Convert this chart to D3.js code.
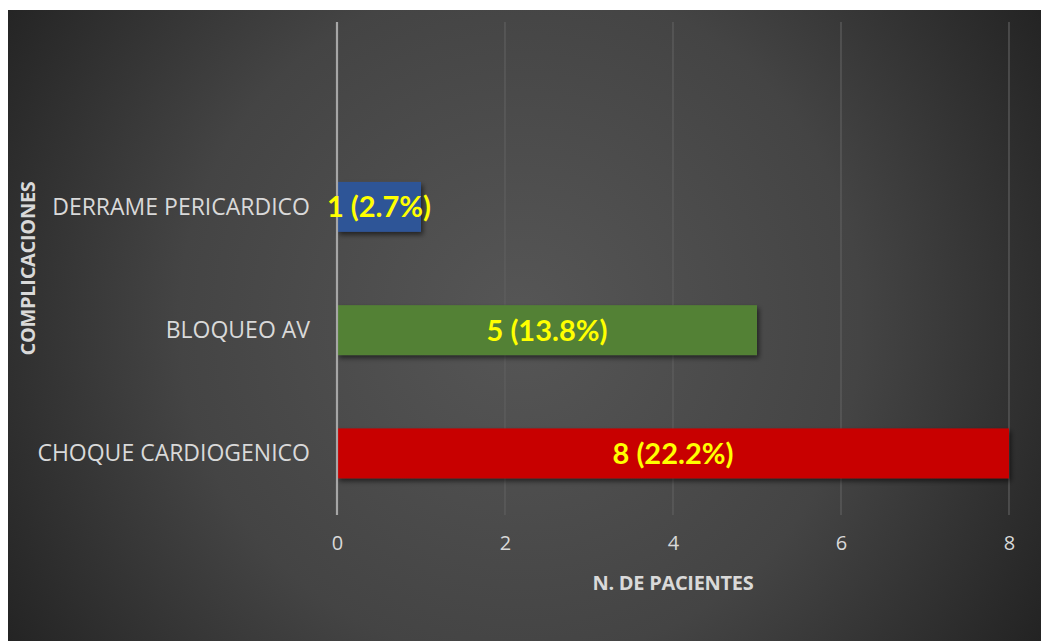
<!DOCTYPE html>
<html>
<head>
<meta charset="utf-8">
<script src="https://cdn.jsdelivr.net/npm/d3@7"></script>
<style>
  html, body { margin: 0; padding: 0; background: #ffffff; }
  svg { display: block; }
</style>
</head>
<body>
<svg id="chart" width="1041" height="641"></svg>
<script>
// Complications, number of patients and share of the cohort
const categories = ["DERRAME PERICARDICO", "BLOQUEO AV", "CHOQUE CARDIOGENICO"];
const patients = [1, 5, 8];
const percents = [2.7, 13.8, 22.2];
const barColors = ["#2F5597", "#538135", "#C80000"];
const xTicks = [0, 2, 4, 6, 8];
const xTitle = "N. DE PACIENTES";
const yTitle = "COMPLICACIONES";

const W = 1041, H = 641;
const frame = { x: 8, y: 10 };
const plot = { left: 337, right: 1009, top: 22, bottom: 515 };

const svg = d3.select("#chart");
const defs = svg.append("defs");

const bg = defs.append("radialGradient")
  .attr("id", "bg").attr("gradientUnits", "userSpaceOnUse")
  .attr("cx", 520).attr("cy", 320).attr("r", 620);
bg.append("stop").attr("offset", "0%").attr("stop-color", "#565656");
bg.append("stop").attr("offset", "55%").attr("stop-color", "#444444");
bg.append("stop").attr("offset", "100%").attr("stop-color", "#222222");

const shadow = defs.append("filter").attr("id", "shadow")
  .attr("x", "-5%").attr("y", "-30%").attr("width", "115%").attr("height", "170%");
shadow.append("feDropShadow").attr("dx", 2).attr("dy", 3).attr("stdDeviation", 2.5)
  .attr("flood-color", "#000").attr("flood-opacity", 0.55);

svg.append("rect").attr("x", frame.x).attr("y", frame.y)
  .attr("width", W - frame.x).attr("height", H - frame.y).attr("fill", "url(#bg)");

const data = categories.map((c, i) => ({ name: c, value: patients[i], pct: percents[i], color: barColors[i] }));

const x = d3.scaleLinear().domain([0, 8]).range([plot.left, plot.right]);
// one empty slot above the first category
const y = d3.scaleBand().domain(["", ...categories]).range([plot.top, plot.bottom])
  .paddingInner(0.595).paddingOuter(0.2975);

// vertical gridlines
svg.append("g").selectAll("line").data(xTicks.filter(t => t > 0)).join("line")
  .attr("x1", d => x(d)).attr("x2", d => x(d))
  .attr("y1", plot.top).attr("y2", plot.bottom)
  .attr("stroke", "#5f5f5f").attr("stroke-width", 1.2);

// x axis tick labels
const xAxis = d3.axisBottom(x).tickValues(xTicks).tickSize(0).tickPadding(0).tickFormat(d3.format("d"));
const gx = svg.append("g").attr("transform", `translate(0,${plot.bottom + 21})`).call(xAxis);
gx.select(".domain").remove();
gx.selectAll("text").attr("fill", "#d9d9d9").attr("font-family", "'Open Sans', sans-serif")
  .attr("font-size", 20).attr("dy", "0.71em");

// bars
svg.append("g").selectAll("rect").data(data).join("rect")
  .attr("x", x(0)).attr("y", d => y(d.name))
  .attr("width", d => x(d.value) - x(0)).attr("height", y.bandwidth())
  .attr("fill", d => d.color).attr("filter", "url(#shadow)");

// category axis
const yAxis = d3.axisLeft(y).tickValues(categories).tickSize(0).tickPadding(27);
const gy = svg.append("g").attr("transform", `translate(${plot.left},0)`).call(yAxis);
gy.select(".domain").remove();
gy.selectAll("text").attr("fill", "#d9d9d9").attr("font-family", "'Open Sans', sans-serif")
  .attr("font-size", 23).attr("dy", "0.35em");

// zero baseline
svg.append("line").attr("x1", x(0)).attr("x2", x(0))
  .attr("y1", plot.top).attr("y2", plot.bottom)
  .attr("stroke", "#a6a6a6").attr("stroke-width", 2.2);

// value labels
svg.append("g").selectAll("text").data(data).join("text")
  .attr("x", d => (x(0) + x(d.value)) / 2)
  .attr("y", d => y(d.name) + y.bandwidth() / 2)
  .attr("dy", "0.36em").attr("text-anchor", "middle")
  .attr("fill", "#FFFF00").attr("font-family", "Lato, sans-serif")
  .attr("font-weight", "bold").attr("font-size", 29)
  .text(d => `${d.value} (${d.pct.toFixed(1)}%)`);

// axis titles
svg.append("text").attr("x", (plot.left + plot.right) / 2).attr("y", 590)
  .attr("text-anchor", "middle").attr("fill", "#d9d9d9")
  .attr("font-family", "'Open Sans', sans-serif").attr("font-weight", "bold")
  .attr("font-size", 20).attr("letter-spacing", -0.3).text(xTitle);

svg.append("text").attr("transform", `translate(35,${(plot.top + plot.bottom) / 2}) rotate(-90)`)
  .attr("text-anchor", "middle").attr("fill", "#d9d9d9")
  .attr("font-family", "'Open Sans', sans-serif").attr("font-weight", "bold")
  .attr("font-size", 20).attr("letter-spacing", -0.3).text(yTitle);
</script>
</body>
</html>
